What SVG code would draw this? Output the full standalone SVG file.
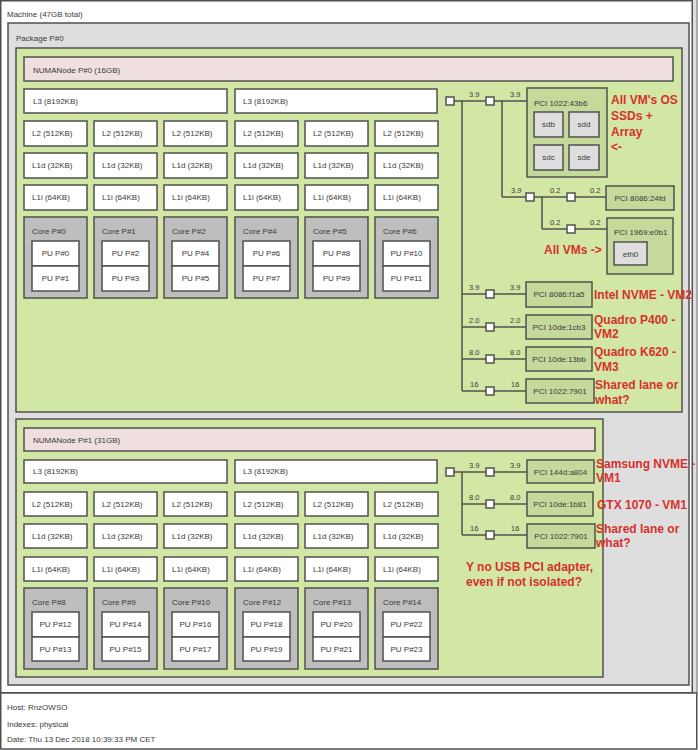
<svg xmlns="http://www.w3.org/2000/svg" width="698" height="750" viewBox="0 0 698 750">
<style>
text{font-family:"Liberation Sans",Arial,sans-serif;font-size:8px;fill:#3a3a3a}
.b{stroke:#505050;stroke-width:1.5}
.mach{fill:#ffffff}
.pkg{fill:#dedede}
.numa{fill:#d2e7a4}
.nlab{fill:#efdfde}
.cache{fill:#ffffff}
.core{fill:#bebebe}
.pu{fill:#ffffff}
.pci{fill:#c5d99b}
.os{fill:#dedede}
.sq{fill:#ffffff;stroke:#505050;stroke-width:1.5}
.c{text-anchor:middle}
.red{font-family:"Liberation Sans",Arial,sans-serif;font-weight:bold;font-size:12px;fill:#d6312b}
.conn line{stroke:#505050;stroke-width:1.5}
.lk{font-size:7.5px}
</style>
<rect x="692" y="0" width="6" height="693" fill="#dedede"/>
<line x1="697" y1="0" x2="697" y2="693" stroke="#777" stroke-width="1"/>
<g id="machine">
<rect class="mach b" x="0.75" y="0.75" width="691.5" height="692"/>
<text x="7" y="17">Machine (47GB total)</text>
</g>
<g id="package">
<rect class="pkg b" x="8" y="23" width="681" height="662"/>
<text x="16" y="41">Package P#0</text>
</g>
<g id="numa0">
<rect class="numa b" x="16" y="48" width="666" height="364"/>
<rect class="nlab b" x="24" y="57" width="649" height="24"/>
<text x="33" y="73">NUMANode P#0 (16GB)</text>
</g>
<g id="numa0-l3">
<rect class="cache b" x="24" y="89" width="203" height="24"/><text x="33" y="104">L3 (8192KB)</text>
<rect class="cache b" x="235" y="89" width="202" height="24"/><text x="243" y="104">L3 (8192KB)</text>
</g>
<g id="numa0-l2">
<rect class="cache b" x="24" y="121" width="63" height="25"/><text x="32" y="136">L2 (512KB)</text>
<rect class="cache b" x="94" y="121" width="63" height="25"/><text x="102" y="136">L2 (512KB)</text>
<rect class="cache b" x="164" y="121" width="63" height="25"/><text x="172" y="136">L2 (512KB)</text>
<rect class="cache b" x="235" y="121" width="63" height="25"/><text x="243" y="136">L2 (512KB)</text>
<rect class="cache b" x="305" y="121" width="63" height="25"/><text x="313" y="136">L2 (512KB)</text>
<rect class="cache b" x="375" y="121" width="63" height="25"/><text x="383" y="136">L2 (512KB)</text>
</g>
<g id="numa0-l1d">
<rect class="cache b" x="24" y="153" width="63" height="25"/><text x="32" y="168">L1d (32KB)</text>
<rect class="cache b" x="94" y="153" width="63" height="25"/><text x="102" y="168">L1d (32KB)</text>
<rect class="cache b" x="164" y="153" width="63" height="25"/><text x="172" y="168">L1d (32KB)</text>
<rect class="cache b" x="235" y="153" width="63" height="25"/><text x="243" y="168">L1d (32KB)</text>
<rect class="cache b" x="305" y="153" width="63" height="25"/><text x="313" y="168">L1d (32KB)</text>
<rect class="cache b" x="375" y="153" width="63" height="25"/><text x="383" y="168">L1d (32KB)</text>
</g>
<g id="numa0-l1i">
<rect class="cache b" x="24" y="185" width="63" height="25"/><text x="32" y="200">L1i (64KB)</text>
<rect class="cache b" x="94" y="185" width="63" height="25"/><text x="102" y="200">L1i (64KB)</text>
<rect class="cache b" x="164" y="185" width="63" height="25"/><text x="172" y="200">L1i (64KB)</text>
<rect class="cache b" x="235" y="185" width="63" height="25"/><text x="243" y="200">L1i (64KB)</text>
<rect class="cache b" x="305" y="185" width="63" height="25"/><text x="313" y="200">L1i (64KB)</text>
<rect class="cache b" x="375" y="185" width="63" height="25"/><text x="383" y="200">L1i (64KB)</text>
</g>
<g id="core0">
<rect class="core b" x="24" y="217" width="63" height="81"/><text x="32" y="234">Core P#0</text>
<rect class="pu b" x="32" y="241" width="47" height="25"/><text class="c" x="55.5" y="256">PU P#0</text>
<rect class="pu b" x="32" y="266" width="47" height="25"/><text class="c" x="55.5" y="281">PU P#1</text>
</g>
<g id="core1">
<rect class="core b" x="94" y="217" width="63" height="81"/><text x="102" y="234">Core P#1</text>
<rect class="pu b" x="102" y="241" width="47" height="25"/><text class="c" x="125.5" y="256">PU P#2</text>
<rect class="pu b" x="102" y="266" width="47" height="25"/><text class="c" x="125.5" y="281">PU P#3</text>
</g>
<g id="core2">
<rect class="core b" x="164" y="217" width="63" height="81"/><text x="172" y="234">Core P#2</text>
<rect class="pu b" x="172" y="241" width="47" height="25"/><text class="c" x="195.5" y="256">PU P#4</text>
<rect class="pu b" x="172" y="266" width="47" height="25"/><text class="c" x="195.5" y="281">PU P#5</text>
</g>
<g id="core4">
<rect class="core b" x="235" y="217" width="63" height="81"/><text x="243" y="234">Core P#4</text>
<rect class="pu b" x="243" y="241" width="47" height="25"/><text class="c" x="266.5" y="256">PU P#6</text>
<rect class="pu b" x="243" y="266" width="47" height="25"/><text class="c" x="266.5" y="281">PU P#7</text>
</g>
<g id="core5">
<rect class="core b" x="305" y="217" width="63" height="81"/><text x="313" y="234">Core P#5</text>
<rect class="pu b" x="313" y="241" width="47" height="25"/><text class="c" x="336.5" y="256">PU P#8</text>
<rect class="pu b" x="313" y="266" width="47" height="25"/><text class="c" x="336.5" y="281">PU P#9</text>
</g>
<g id="core6">
<rect class="core b" x="375" y="217" width="63" height="81"/><text x="383" y="234">Core P#6</text>
<rect class="pu b" x="383" y="241" width="47" height="25"/><text class="c" x="406.5" y="256">PU P#10</text>
<rect class="pu b" x="383" y="266" width="47" height="25"/><text class="c" x="406.5" y="281">PU P#11</text>
</g>
<g id="numa1">
<rect class="numa b" x="16" y="419" width="587" height="258"/>
<rect class="nlab b" x="24" y="428" width="571" height="23"/>
<text x="33" y="443">NUMANode P#1 (31GB)</text>
</g>
<g id="numa1-l3">
<rect class="cache b" x="24" y="460" width="203" height="23"/><text x="33" y="474">L3 (8192KB)</text>
<rect class="cache b" x="235" y="460" width="202" height="23"/><text x="243" y="474">L3 (8192KB)</text>
</g>
<g id="numa1-l2">
<rect class="cache b" x="24" y="492" width="63" height="24"/><text x="32" y="507">L2 (512KB)</text>
<rect class="cache b" x="94" y="492" width="63" height="24"/><text x="102" y="507">L2 (512KB)</text>
<rect class="cache b" x="164" y="492" width="63" height="24"/><text x="172" y="507">L2 (512KB)</text>
<rect class="cache b" x="235" y="492" width="63" height="24"/><text x="243" y="507">L2 (512KB)</text>
<rect class="cache b" x="305" y="492" width="63" height="24"/><text x="313" y="507">L2 (512KB)</text>
<rect class="cache b" x="375" y="492" width="63" height="24"/><text x="383" y="507">L2 (512KB)</text>
</g>
<g id="numa1-l1d">
<rect class="cache b" x="24" y="524" width="63" height="24"/><text x="32" y="539">L1d (32KB)</text>
<rect class="cache b" x="94" y="524" width="63" height="24"/><text x="102" y="539">L1d (32KB)</text>
<rect class="cache b" x="164" y="524" width="63" height="24"/><text x="172" y="539">L1d (32KB)</text>
<rect class="cache b" x="235" y="524" width="63" height="24"/><text x="243" y="539">L1d (32KB)</text>
<rect class="cache b" x="305" y="524" width="63" height="24"/><text x="313" y="539">L1d (32KB)</text>
<rect class="cache b" x="375" y="524" width="63" height="24"/><text x="383" y="539">L1d (32KB)</text>
</g>
<g id="numa1-l1i">
<rect class="cache b" x="24" y="557" width="63" height="24"/><text x="32" y="572">L1i (64KB)</text>
<rect class="cache b" x="94" y="557" width="63" height="24"/><text x="102" y="572">L1i (64KB)</text>
<rect class="cache b" x="164" y="557" width="63" height="24"/><text x="172" y="572">L1i (64KB)</text>
<rect class="cache b" x="235" y="557" width="63" height="24"/><text x="243" y="572">L1i (64KB)</text>
<rect class="cache b" x="305" y="557" width="63" height="24"/><text x="313" y="572">L1i (64KB)</text>
<rect class="cache b" x="375" y="557" width="63" height="24"/><text x="383" y="572">L1i (64KB)</text>
</g>
<g id="core8">
<rect class="core b" x="24" y="588" width="63" height="81"/><text x="32" y="605">Core P#8</text>
<rect class="pu b" x="32" y="612" width="47" height="25"/><text class="c" x="55.5" y="627">PU P#12</text>
<rect class="pu b" x="32" y="637" width="47" height="24"/><text class="c" x="55.5" y="652">PU P#13</text>
</g>
<g id="core9">
<rect class="core b" x="94" y="588" width="63" height="81"/><text x="102" y="605">Core P#9</text>
<rect class="pu b" x="102" y="612" width="47" height="25"/><text class="c" x="125.5" y="627">PU P#14</text>
<rect class="pu b" x="102" y="637" width="47" height="24"/><text class="c" x="125.5" y="652">PU P#15</text>
</g>
<g id="core10">
<rect class="core b" x="164" y="588" width="63" height="81"/><text x="172" y="605">Core P#10</text>
<rect class="pu b" x="172" y="612" width="47" height="25"/><text class="c" x="195.5" y="627">PU P#16</text>
<rect class="pu b" x="172" y="637" width="47" height="24"/><text class="c" x="195.5" y="652">PU P#17</text>
</g>
<g id="core12">
<rect class="core b" x="235" y="588" width="63" height="81"/><text x="243" y="605">Core P#12</text>
<rect class="pu b" x="243" y="612" width="47" height="25"/><text class="c" x="266.5" y="627">PU P#18</text>
<rect class="pu b" x="243" y="637" width="47" height="24"/><text class="c" x="266.5" y="652">PU P#19</text>
</g>
<g id="core13">
<rect class="core b" x="305" y="588" width="63" height="81"/><text x="313" y="605">Core P#13</text>
<rect class="pu b" x="313" y="612" width="47" height="25"/><text class="c" x="336.5" y="627">PU P#20</text>
<rect class="pu b" x="313" y="637" width="47" height="24"/><text class="c" x="336.5" y="652">PU P#21</text>
</g>
<g id="core14">
<rect class="core b" x="375" y="588" width="63" height="81"/><text x="383" y="605">Core P#14</text>
<rect class="pu b" x="383" y="612" width="47" height="25"/><text class="c" x="406.5" y="627">PU P#22</text>
<rect class="pu b" x="383" y="637" width="47" height="24"/><text class="c" x="406.5" y="652">PU P#23</text>
</g>
<g id="connectors" class="conn">
<line x1="454" y1="101" x2="486" y2="101"/>
<line x1="494" y1="101" x2="527" y2="101"/>
<line x1="462" y1="101" x2="462" y2="391"/>
<line x1="502" y1="101" x2="502" y2="197"/>
<line x1="502" y1="197" x2="526" y2="197"/>
<line x1="534" y1="197" x2="567" y2="197"/>
<line x1="575" y1="197" x2="606" y2="197"/>
<line x1="542" y1="197" x2="542" y2="229"/>
<line x1="542" y1="229" x2="567" y2="229"/>
<line x1="575" y1="229" x2="607" y2="229"/>
<line x1="462" y1="294" x2="486" y2="294"/><line x1="494" y1="294" x2="526" y2="294"/>
<line x1="462" y1="327" x2="486" y2="327"/><line x1="494" y1="327" x2="526" y2="327"/>
<line x1="462" y1="359" x2="486" y2="359"/><line x1="494" y1="359" x2="526" y2="359"/>
<line x1="462" y1="391" x2="486" y2="391"/><line x1="494" y1="391" x2="526" y2="391"/>
<line x1="454" y1="472" x2="486" y2="472"/><line x1="494" y1="472" x2="527" y2="472"/>
<line x1="462" y1="472" x2="462" y2="535"/>
<line x1="462" y1="504" x2="486" y2="504"/><line x1="494" y1="504" x2="527" y2="504"/>
<line x1="462" y1="535" x2="486" y2="535"/><line x1="494" y1="535" x2="527" y2="535"/>
</g>
<g id="bridges">
<rect class="sq" x="446" y="97" width="8" height="8"/>
<rect class="sq" x="486" y="97" width="8" height="8"/>
<rect class="sq" x="526" y="193" width="8" height="8"/>
<rect class="sq" x="567" y="193" width="8" height="8"/>
<rect class="sq" x="567" y="225" width="8" height="8"/>
<rect class="sq" x="486" y="290" width="8" height="8"/>
<rect class="sq" x="486" y="323" width="8" height="8"/>
<rect class="sq" x="486" y="355" width="8" height="8"/>
<rect class="sq" x="486" y="387" width="8" height="8"/>
<rect class="sq" x="446" y="468" width="8" height="8"/>
<rect class="sq" x="486" y="468" width="8" height="8"/>
<rect class="sq" x="486" y="500" width="8" height="8"/>
<rect class="sq" x="486" y="531" width="8" height="8"/>
</g>
<g id="link-labels" class="lk">
<text class="lk" x="469" y="97">3.9</text><text class="lk" x="510" y="97">3.9</text>
<text class="lk" x="511" y="193">3.9</text><text class="lk" x="550" y="193">0.2</text><text class="lk" x="590" y="193">0.2</text>
<text class="lk" x="550" y="225">0.2</text><text class="lk" x="590" y="225">0.2</text>
<text class="lk" x="469" y="290">3.9</text><text class="lk" x="510" y="290">3.9</text>
<text class="lk" x="469" y="323">2.0</text><text class="lk" x="510" y="323">2.0</text>
<text class="lk" x="469" y="355">8.0</text><text class="lk" x="510" y="355">8.0</text>
<text class="lk" x="470" y="387">16</text><text class="lk" x="511" y="387">16</text>
<text class="lk" x="469" y="468">3.9</text><text class="lk" x="510" y="468">3.9</text>
<text class="lk" x="469" y="500">8.0</text><text class="lk" x="510" y="500">8.0</text>
<text class="lk" x="470" y="531">16</text><text class="lk" x="511" y="531">16</text>
</g>
<g id="pci-1022-43b6">
<rect class="pci b" x="527" y="88" width="80" height="89"/>
<text x="534" y="106">PCI 1022:43b6</text>
<rect class="os b" x="534" y="112" width="29" height="25"/><text class="c" x="548.5" y="127">sdb</text>
<rect class="os b" x="569" y="112" width="30" height="25"/><text class="c" x="584" y="127">sdd</text>
<rect class="os b" x="534" y="145" width="29" height="25"/><text class="c" x="548.5" y="160">sdc</text>
<rect class="os b" x="569" y="145" width="30" height="25"/><text class="c" x="584" y="160">sde</text>
</g>
<g id="pci-8086-24fd">
<rect class="pci b" x="606" y="186" width="68" height="24"/>
<text class="c" x="640" y="201">PCI 8086:24fd</text>
</g>
<g id="pci-1969-e0b1">
<rect class="pci b" x="607" y="218" width="66" height="56"/>
<text x="614" y="235">PCI 1969:e0b1</text>
<rect class="os b" x="614" y="242" width="33" height="23"/><text class="c" x="630.5" y="257">eth0</text>
</g>
<g id="pci-8086-f1a5">
<rect class="pci b" x="526" y="282" width="66" height="25"/>
<text class="c" x="559" y="297">PCI 8086:f1a5</text>
</g>
<g id="pci-10de-1cb3">
<rect class="pci b" x="526" y="315" width="66" height="24"/>
<text class="c" x="559" y="330">PCI 10de:1cb3</text>
</g>
<g id="pci-10de-13bb">
<rect class="pci b" x="526" y="347" width="66" height="24"/>
<text class="c" x="559" y="362">PCI 10de:13bb</text>
</g>
<g id="pci-1022-7901-a">
<rect class="pci b" x="526" y="379" width="68" height="24"/>
<text class="c" x="560" y="394">PCI 1022:7901</text>
</g>
<g id="pci-144d-a804">
<rect class="pci b" x="527" y="460" width="67" height="23"/>
<text class="c" x="560.5" y="475">PCI 144d:a804</text>
</g>
<g id="pci-10de-1b81">
<rect class="pci b" x="527" y="492" width="66" height="24"/>
<text class="c" x="560" y="507">PCI 10de:1b81</text>
</g>
<g id="pci-1022-7901-b">
<rect class="pci b" x="527" y="524" width="68" height="24"/>
<text class="c" x="561" y="539">PCI 1022:7901</text>
</g>
<g id="annotations">
<text class="red" x="611" y="104">All VM's OS</text>
<text class="red" x="611" y="120">SSDs +</text>
<text class="red" x="611" y="136">Array</text>
<text class="red" x="611" y="151">&lt;-</text>
<text class="red" x="544" y="254">All VMs -&gt;</text>
<text class="red" x="594" y="299">Intel NVME - VM2</text>
<text class="red" x="594" y="324">Quadro P400 -</text>
<text class="red" x="594" y="338">VM2</text>
<text class="red" x="594" y="356">Quadro K620 -</text>
<text class="red" x="594" y="371">VM3</text>
<text class="red" x="595" y="389">Shared lane or</text>
<text class="red" x="595" y="404">what?</text>
<text class="red" x="596" y="468">Samsung NVME -</text>
<text class="red" x="596" y="482">VM1</text>
<text class="red" x="597" y="509">GTX 1070 - VM1</text>
<text class="red" x="596" y="533">Shared lane or</text>
<text class="red" x="596" y="547">what?</text>
<text class="red" x="466" y="571">Y no USB PCI adapter,</text>
<text class="red" x="466" y="586">even if not isolated?</text>
</g>
<g id="legend">
<rect x="0.75" y="693" width="696" height="56" fill="#ffffff" stroke="#505050" stroke-width="1.5"/>
<text x="7" y="710">Host: RnzOWSO</text>
<text x="7" y="727">Indexes: physical</text>
<text x="7" y="742">Date: Thu 13 Dec 2018 10:39:33 PM CET</text>
</g>
</svg>
